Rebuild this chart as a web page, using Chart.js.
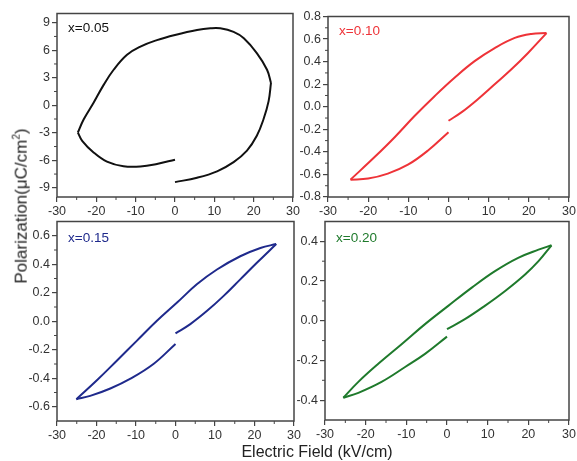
<!DOCTYPE html>
<html>
<head>
<meta charset="utf-8">
<script src="https://cdn.jsdelivr.net/npm/chart.js@4.4.1/dist/chart.umd.min.js"></script>
<style>
    body { margin: 0; background: #fff; width: 577px; height: 461px; position: relative; overflow: hidden; font-family: 'Liberation Sans', Arial, sans-serif; }
    canvas { position: absolute; }
    #ytitle { position: absolute; left: 21px; top: 206px; transform: translate(-50%, -50%) rotate(-90deg); font-size: 17px; color: #222; white-space: nowrap; }
    #ytitle sup { font-size: 10px; }
    #xtitle { position: absolute; left: 317px; top: 452px; transform: translate(-50%, -50%); font-size: 16px; color: #222; white-space: nowrap; }
</style>
</head>
<body>
<canvas id="c05"></canvas>
<canvas id="c10"></canvas>
<canvas id="c15"></canvas>
<canvas id="c20"></canvas>
<div id="ytitle">Polarization(μC/cm<sup>2</sup>)</div>
<div id="xtitle">Electric Field (kV/cm)</div>
<script>
// --- Data ---
const xTicks = [-30, -20, -10, 0, 10, 20, 30];

const yTicks05 = [-9, -6, -3, 0, 3, 6, 9];
const yTicks10 = [-0.8, -0.6, -0.4, -0.2, 0, 0.2, 0.4, 0.6, 0.8];
const yTicks15 = [-0.6, -0.4, -0.2, 0, 0.2, 0.4, 0.6];
const yTicks20 = [-0.4, -0.2, 0, 0.2, 0.4];

// x = 0.05  (loop traced from E = 0 up to +Emax, over to -Emax, back to E = 0)
const e05 = [0, 5.6, 10.7, 14.9, 18.3, 20.8, 22.5, 23.8, 24.4, 23.4, 20.8, 17.5, 14.9, 11.5, 9.0, 5.6, 0, -4.6, -8.8, -12.2, -15.6, -18.1, -20.7, -23.2, -24.7, -23.6, -20.7, -17.3, -13.1, -8.8, -4.6, 0];
const p05 = [-8.38, -7.9, -7.2, -6.2, -4.95, -3.33, -1.53, 0.45, 2.43, 3.87, 5.68, 7.3, 8.0, 8.38, 8.38, 8.2, 7.66, 7.1, 6.4, 5.5, 3.87, 2.25, 0.27, -1.53, -2.97, -3.87, -5.14, -6.14, -6.65, -6.68, -6.4, -5.93];

// x = 0.10
const e10 = [0, 3.2, 7.3, 11.5, 15.6, 19.8, 24.4, 20.6, 16.5, 11.5, 6.5, 1.5, -3.4, -8.4, -13.4, -18.4, -24.4, -20, -15.1, -10.1, -5.1, 0];
const p10 = [-0.124, -0.05, 0.067, 0.2, 0.33, 0.477, 0.653, 0.645, 0.61, 0.52, 0.404, 0.257, 0.096, -0.08, -0.27, -0.446, -0.646, -0.637, -0.593, -0.514, -0.388, -0.226];

// x = 0.15
const e15 = [0, 3.75, 8.0, 12.2, 16.4, 20.6, 25.5, 21.5, 16.4, 10.5, 5.4, 0.4, -4.7, -9.75, -14.8, -19.9, -25.1, -21.6, -16.5, -11.4, -5.5, 0];
const p15 = [-0.085, -0.02, 0.073, 0.178, 0.294, 0.41, 0.542, 0.514, 0.456, 0.363, 0.259, 0.131, 0.003, -0.136, -0.275, -0.414, -0.547, -0.524, -0.472, -0.403, -0.298, -0.159];

// x = 0.20
const e20 = [0, 4.4, 9.3, 14.3, 19.2, 22.5, 25.7, 22.5, 17.5, 11.8, 6.1, 0.3, -5.4, -11.1, -16.9, -21.8, -25.5, -21.8, -16.1, -10.3, -5.4, 0];
const p20 = [-0.042, 0.008, 0.075, 0.15, 0.233, 0.3, 0.38, 0.358, 0.317, 0.25, 0.167, 0.075, -0.017, -0.117, -0.217, -0.308, -0.388, -0.363, -0.308, -0.233, -0.167, -0.08];

// --- Helpers ---

// split a loop at its field extremes so the tips stay sharp
function branches(e, p) {
    const iMax = e.indexOf(Math.max(...e));
    const iMin = e.indexOf(Math.min(...e));
    const pts = e.map((v, i) => ({ x: v, y: p[i] }));
    return [pts.slice(0, iMax + 1), pts.slice(iMax, iMin + 1), pts.slice(iMin)];
}

// box frame, minor ticks and the panel label
const framePlugin = {
    id: 'frame',
    afterDraw(chart, args, opts) {
        const { ctx, chartArea: a, scales } = chart;
        ctx.save();
        ctx.strokeStyle = '#444';
        ctx.lineWidth = 1.5;
        ctx.strokeRect(a.left, a.top, a.right - a.left, a.bottom - a.top);

        // minor ticks halfway between the majors
        ctx.lineWidth = 1;
        ctx.beginPath();
        const xs = scales.x.ticks;
        for (let i = 1; i < xs.length; i++) {
            const px = scales.x.getPixelForValue((xs[i - 1].value + xs[i].value) / 2);
            ctx.moveTo(px, a.bottom); ctx.lineTo(px, a.bottom + 3);
        }
        const ys = scales.y.ticks;
        for (let i = 1; i < ys.length; i++) {
            const py = scales.y.getPixelForValue((ys[i - 1].value + ys[i].value) / 2);
            ctx.moveTo(a.left, py); ctx.lineTo(a.left - 3, py);
        }
        ctx.stroke();

        ctx.fillStyle = opts.color;
        ctx.font = "13.5px 'Liberation Sans', Arial, sans-serif";
        ctx.textBaseline = 'middle';
        ctx.fillText(opts.text, a.left + 11, a.top + opts.dy);
        ctx.restore();
    }
};

const Y_W = 40, X_H = 24, PAD_T = 8, PAD_R = 12;

function makePanel(id, box, e, p, yTicks, yMin, yMax, decimals, color, label, dy) {
    const [L, T, R, B] = box;
    const cv = document.getElementById(id);
    const w = R - L + Y_W + PAD_R;
    const h = B - T + PAD_T + X_H;
    cv.width = w; cv.height = h;
    cv.style.left = (L - Y_W) + 'px';
    cv.style.top = (T - PAD_T) + 'px';
    cv.style.width = w + 'px';
    cv.style.height = h + 'px';

    const tickFont = { family: "'Liberation Sans', Arial, sans-serif", size: 12.5 };

    new Chart(cv.getContext('2d'), {
        type: 'scatter',
        data: {
            datasets: branches(e, p).map(seg => ({
                data: seg,
                showLine: true,
                borderColor: color,
                borderWidth: 2,
                pointRadius: 0,
                tension: 0.4
            }))
        },
        options: {
            responsive: false,
            animation: false,
            layout: { padding: { top: PAD_T, right: PAD_R, left: 0, bottom: 0 } },
            plugins: {
                legend: { display: false },
                tooltip: { enabled: false },
                frame: { color: color, text: label, dy: dy }
            },
            scales: {
                x: {
                    type: 'linear',
                    min: -30, max: 30,
                    afterBuildTicks: s => { s.ticks = xTicks.map(v => ({ value: v })); },
                    afterFit: s => { s.height = X_H; },
                    border: { display: false },
                    grid: { drawOnChartArea: false, tickLength: 5, color: '#444', lineWidth: 1.2 },
                    ticks: { color: '#333', font: tickFont, padding: 2, maxRotation: 0 }
                },
                y: {
                    type: 'linear',
                    min: yMin, max: yMax,
                    afterBuildTicks: s => { s.ticks = yTicks.map(v => ({ value: v })); },
                    afterFit: s => { s.width = Y_W; },
                    border: { display: false },
                    grid: { drawOnChartArea: false, tickLength: 5, color: '#444', lineWidth: 1.2 },
                    ticks: { color: '#333', font: tickFont, padding: 2, callback: v => v.toFixed(decimals) }
                }
            }
        },
        plugins: [framePlugin]
    });
}

makePanel('c05', [57, 12, 293, 197], e05, p05, yTicks05, -10, 10, 0, '#111111', 'x=0.05', 15);
makePanel('c10', [328, 15, 569, 197], e10, p10, yTicks10, -0.8, 0.8, 1, '#ee3338', 'x=0.10', 15);
makePanel('c15', [57, 220, 294, 421], e15, p15, yTicks15, -0.7, 0.7, 1, '#1f2a8c', 'x=0.15', 17);
makePanel('c20', [325, 220, 569, 420], e20, p20, yTicks20, -0.5, 0.5, 1, '#1f7a2c', 'x=0.20', 17);
</script>
</body>
</html>
